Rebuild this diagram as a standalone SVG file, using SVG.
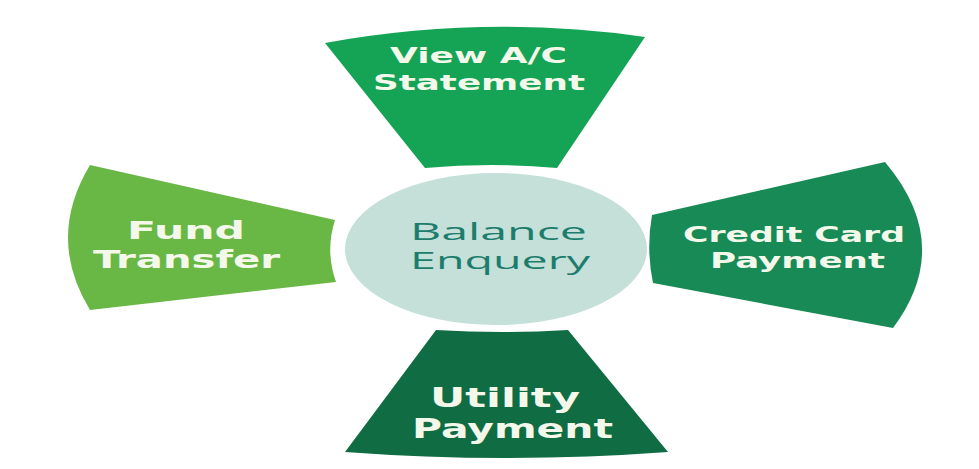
<svg xmlns="http://www.w3.org/2000/svg" width="979" height="469" viewBox="0 0 979 469">
<style>
.lbl{font-family:"DejaVu Sans","Liberation Sans",sans-serif;font-weight:bold;fill:#f4f8ea;text-anchor:start}
.ctr{font-family:"Open Sans","Liberation Sans",sans-serif;fill:#1c7d6d;text-anchor:start}
</style>
<rect width="979" height="469" fill="#ffffff"/>
<g id="connectors"></g>
<g id="center">
<ellipse cx="496" cy="249" rx="151" ry="76" fill="#c4e0d9"/>
<text class="ctr" x="410" y="240" font-size="23" textLength="177" lengthAdjust="spacingAndGlyphs">Balance</text>
<text class="ctr" x="410" y="269" font-size="23" textLength="180" lengthAdjust="spacingAndGlyphs">Enquery</text>
</g>
<g id="view-statement">
<path d="M325,43 Q485,14 645,37 L557,168 Q491,162 425,168 Z" fill="#15a455"/>
<text class="lbl" x="390" y="63" font-size="21" textLength="177" lengthAdjust="spacingAndGlyphs">View A/C</text>
<text class="lbl" x="373" y="90" font-size="21" textLength="212" lengthAdjust="spacingAndGlyphs">Statement</text>
</g>
<g id="fund-transfer">
<path d="M90,165 Q46,238 90,310 L336,282 Q325,251 335,220 Z" fill="#69b745"/>
<text class="lbl" x="127" y="239" font-size="25" textLength="118" lengthAdjust="spacingAndGlyphs">Fund</text>
<text class="lbl" x="93" y="268" font-size="25" textLength="187" lengthAdjust="spacingAndGlyphs">Transfer</text>
</g>
<g id="credit-card">
<path d="M652,215 Q646,249 653,283 L893,328 Q955,245 885,162 Z" fill="#188a56"/>
<text class="lbl" x="683" y="242" font-size="22" textLength="222" lengthAdjust="spacingAndGlyphs">Credit Card</text>
<text class="lbl" x="710" y="268" font-size="22" textLength="175" lengthAdjust="spacingAndGlyphs">Payment</text>
</g>
<g id="utility-payment">
<path d="M436,330 Q502,334 568,330 L668,452 Q506,464 345,452 Z" fill="#106c42"/>
<text class="lbl" x="430" y="407" font-size="26" textLength="150" lengthAdjust="spacingAndGlyphs">Utility</text>
<text class="lbl" x="412" y="438" font-size="27" textLength="201" lengthAdjust="spacingAndGlyphs">Payment</text>
</g>
</svg>
